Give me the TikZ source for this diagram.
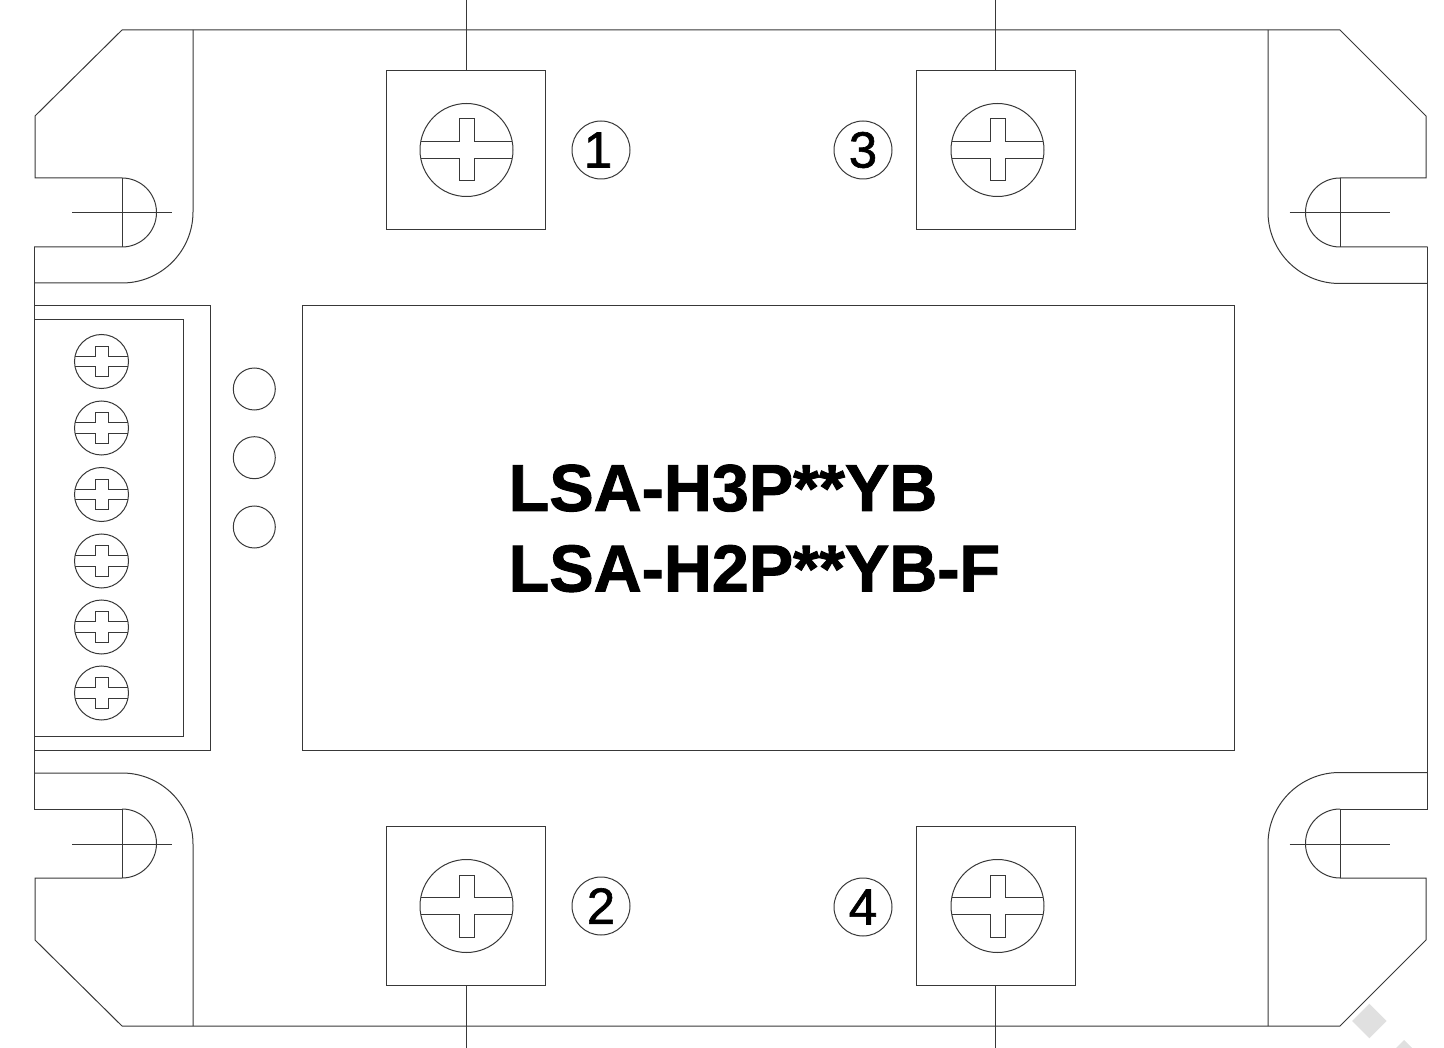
\documentclass[tikz,border=0pt]{standalone}
\usepackage{fontspec}
\setmainfont{Liberation Sans}
\newfontfamily\numfont[FakeBold=1.2]{Liberation Sans}
\newfontfamily\typefont[FakeBold=1.4]{Liberation Sans Bold}
\tikzset{
  part/.style={draw=black!78, line width=1pt},
  terminal/.style={part, rectangle, minimum size=159pt, inner sep=0pt, outer sep=0pt},
  portnum/.style={part, circle, minimum size=58pt, inner sep=0pt, font=\fontsize{51}{51}\selectfont\numfont},
  lamp/.style={part, circle, minimum size=42pt, inner sep=0pt},
  typeline/.style={anchor=base west, inner sep=0pt, font=\fontsize{66.5}{66.5}\selectfont\typefont},
  wmark/.style={fill=black!12, draw=none},
  pics/head/.style n args={4}{code={
    \draw[part] (0,0) circle (#1pt);
    \pgfmathsetmacro{\edge}{sqrt(#1*#1-#2*#2)}
    \draw[part] (-\edge,-#2) -- (-#3,-#2) -- (-#3,-#4) -- (#3,-#4) -- (#3,-#2) -- (\edge,-#2);
    \draw[part] (-\edge,#2) -- (-#3,#2) -- (-#3,#4) -- (#3,#4) -- (#3,#2) -- (\edge,#2);
  }}
}
\begin{document}
\begin{tikzpicture}[x=1pt, y=-1pt]
    \clip (0,0) rectangle (1444,1048);

    % grey marks in the corner
    \fill[wmark] (1369.3,1003.7) -- (1386.6,1021) -- (1369.3,1038.3) -- (1352,1021) -- cycle;
    \fill[wmark] (1404,1040) -- (1421.3,1057.3) -- (1404,1074.6) -- (1386.7,1057.3) -- cycle;

    % outline
    \draw[part] (122,30) -- (1340,30) -- (1426,116) -- (1426,178) -- (1340,178);
    \draw[part] (122,30) -- (35,116) -- (35,178) -- (122,178);
    \draw[part] (122,1026) -- (1340,1026) -- (1426,940) -- (1426,878) -- (1340,878);
    \draw[part] (122,1026) -- (35,940) -- (35,878) -- (122,878);
    \draw[part] (34,247) -- (34,809);
    \draw[part] (1427.5,247) -- (1427.5,809);

    % mounting slots
    \draw[part] (122,178) arc (90:-90:34.5pt) -- (34,247);
    \draw[part] (122,809) arc (90:-90:34.5pt);
    \draw[part] (34,809) -- (122,809);
    \draw[part] (1340,178) arc (90:270:34.5pt) -- (1427.5,247);
    \draw[part] (1340,809) arc (90:270:34.5pt);
    \draw[part] (1427.5,809) -- (1340,809);
    \draw[part] (122,178) -- (122,247);
    \draw[part] (122,809) -- (122,878);
    \draw[part] (1340,178) -- (1340,247);
    \draw[part] (1340,809) -- (1340,878);
    \draw[part] (72,212.5) -- (172,212.5);
    \draw[part] (72,844) -- (172,844);
    \draw[part] (1289.5,212.5) -- (1389.5,212.5);
    \draw[part] (1289.5,844) -- (1389.5,844);

    % corner plates
    \draw[part] (193,30) -- (193,212) arc (0:-90:71pt) -- (34,283);
    \draw[part] (34,773) -- (122,773) arc (90:0:71pt) -- (193,1026);
    \draw[part] (1268,30) -- (1268,212) arc (180:270:71.5pt) -- (1427.5,283.5);
    \draw[part] (1268,1026) -- (1268,844) arc (180:90:71.5pt) -- (1427.5,772.5);

    % power terminals
    \foreach \name/\x/\y/\tip/\side/\hx in {termone/466/150/0/north/466.5, termtwo/466/906/1048/south/466.5,
        termthree/995.5/150/0/north/997.5, termfour/995.5/906/1048/south/997.5} {
      \node[terminal] (\name) at (\x,\y) {};
      \pic at (\hx,\y) {head={46.5}{8.5}{7.5}{31}};
      \coordinate (\name lead) at (\x,\tip);
      \draw[part] (\name.\side) -- (\name lead);
    }
    \node[portnum] (numone) at (601,150) {\kern-6pt 1};
    \node[portnum] (numtwo) at (601,906) {2};
    \node[portnum] (numthree) at (863,150) {3};
    \node[portnum] (numfour) at (863,907) {4};

    % control connector
    \draw[part] (34,306) -- (210,306) -- (210,750) -- (34,750);
    \draw[part] (34,320) -- (183,320) -- (183,736) -- (34,736);
    \foreach \y in {361.5,428,494.5,561,627,693}
      \pic at (101.5,\y) {head={27}{5.3}{6.5}{15.3}};

    % indicator lamps
    \node[lamp] (lampa) at (254.3,389) {};
    \node[lamp] (lampb) at (254.3,457.7) {};
    \node[lamp] (lampc) at (254.3,527) {};

    % label plate
    \node[part, rectangle, minimum width=932pt, minimum height=444pt, inner sep=0pt, outer sep=0pt] (plate) at (768,528) {};
    \node[typeline] (typea) at (508.5,511) {LSA-H3P**YB};
    \node[typeline] (typeb) at (508.5,591.5) {LSA-H2P**YB-F};
\end{tikzpicture}
\end{document}
